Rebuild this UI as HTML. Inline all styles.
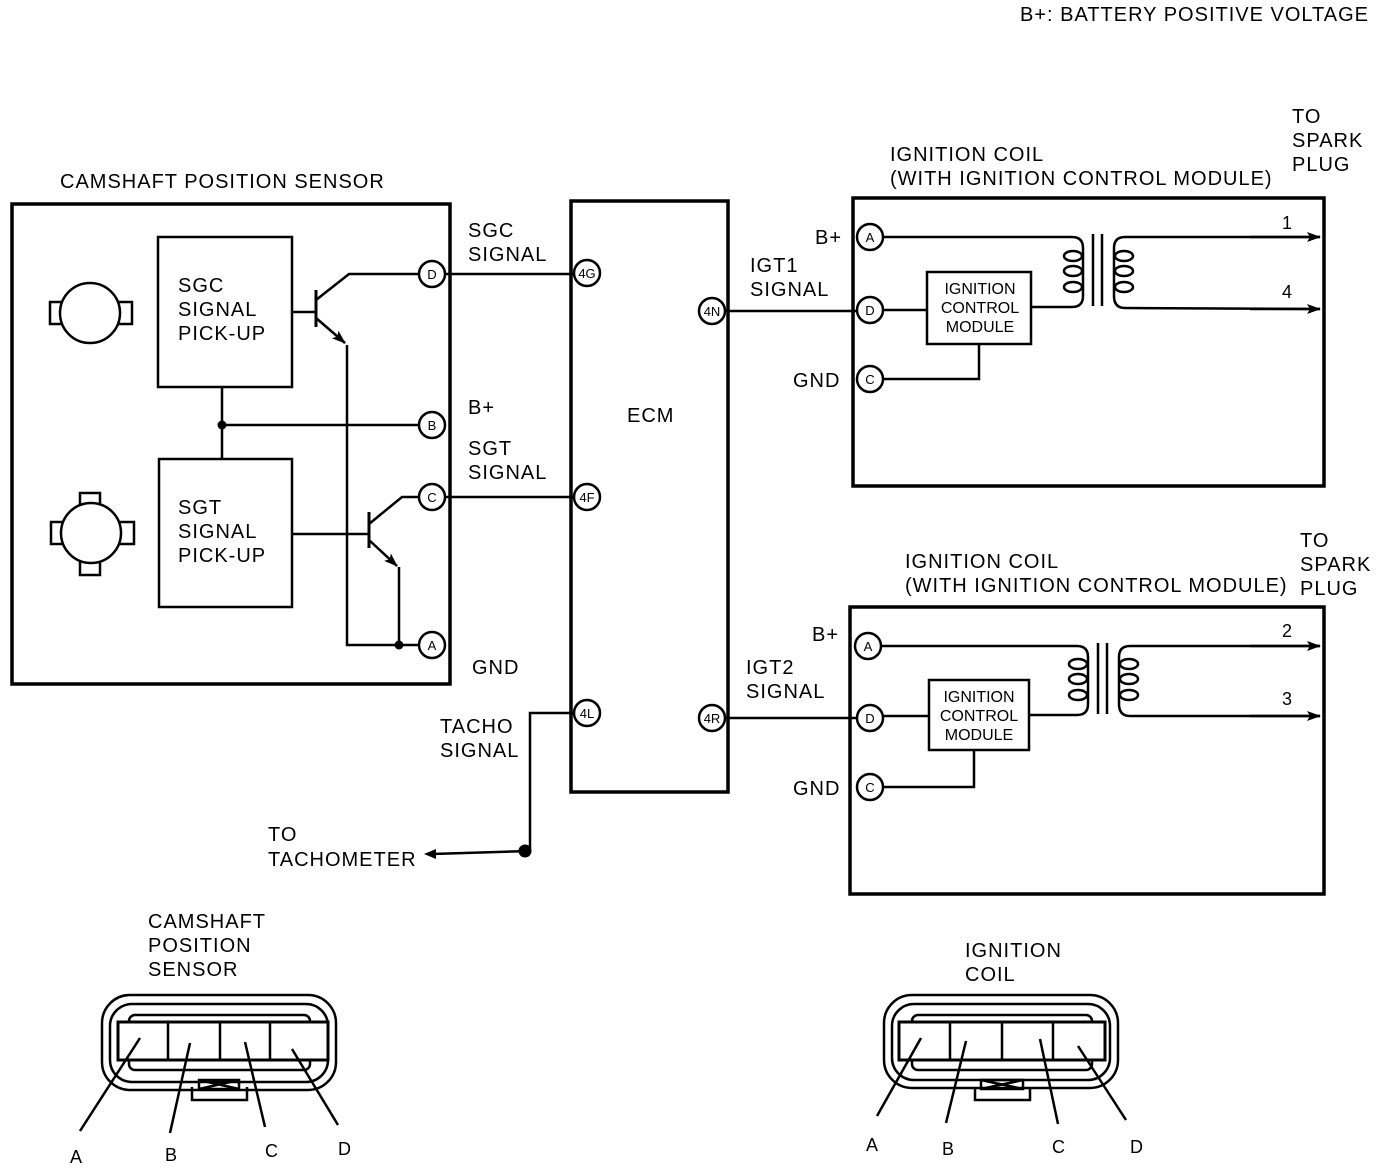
<!DOCTYPE html>
<html><head><meta charset="utf-8"><style>
html,body{margin:0;padding:0;background:#fff}
svg text{font-family:"Liberation Sans",sans-serif;fill:#000}
</style></head><body>
<svg width="1392" height="1170" viewBox="0 0 1392 1170" xmlns="http://www.w3.org/2000/svg">
<defs>
<marker id="ar" markerWidth="14" markerHeight="10" refX="13" refY="5" orient="auto" markerUnits="userSpaceOnUse"><path d="M0,0 L14,5 L0,10 L3,5 Z" fill="#000"/></marker>
</defs>
<g font-size="20" letter-spacing="1">
<text x="1020" y="21">B+: BATTERY POSITIVE VOLTAGE</text>
<text x="60" y="188">CAMSHAFT POSITION SENSOR</text>
<text x="468" y="237">SGC</text><text x="468" y="261">SIGNAL</text>
<text x="468" y="414">B+</text>
<text x="468" y="455">SGT</text><text x="468" y="479">SIGNAL</text>
<text x="472" y="674">GND</text>
<text x="627" y="422">ECM</text>
<text x="440" y="733">TACHO</text><text x="440" y="757">SIGNAL</text>
<text x="268" y="841">TO</text><text x="268" y="866">TACHOMETER</text>
<text x="750" y="272">IGT1</text><text x="750" y="296">SIGNAL</text>
<text x="746" y="674">IGT2</text><text x="746" y="698">SIGNAL</text>
<text x="815" y="244">B+</text>
<text x="793" y="387">GND</text>
<text x="812" y="641">B+</text>
<text x="793" y="795">GND</text>
<text x="890" y="161">IGNITION COIL</text><text x="890" y="185">(WITH IGNITION CONTROL MODULE)</text>
<text x="1292" y="123">TO</text><text x="1292" y="147">SPARK</text><text x="1292" y="171">PLUG</text>
<text x="905" y="568">IGNITION COIL</text><text x="905" y="592">(WITH IGNITION CONTROL MODULE)</text>
<text x="1300" y="547">TO</text><text x="1300" y="571">SPARK</text><text x="1300" y="595">PLUG</text>
<text x="1282" y="229" font-size="18">1</text><text x="1282" y="298" font-size="18">4</text>
<text x="1282" y="637" font-size="18">2</text><text x="1282" y="705" font-size="18">3</text>
<text x="178" y="292">SGC</text><text x="178" y="316">SIGNAL</text><text x="178" y="340">PICK-UP</text>
<text x="178" y="514">SGT</text><text x="178" y="538">SIGNAL</text><text x="178" y="562">PICK-UP</text>
<text x="148" y="928">CAMSHAFT</text><text x="148" y="952">POSITION</text><text x="148" y="976">SENSOR</text>
<text x="965" y="957">IGNITION</text><text x="965" y="981">COIL</text>
<text x="70" y="1163" font-size="18">A</text><text x="165" y="1161" font-size="18">B</text><text x="265" y="1157" font-size="18">C</text><text x="338" y="1155" font-size="18">D</text>
<text x="866" y="1151" font-size="18">A</text><text x="942" y="1155" font-size="18">B</text><text x="1052" y="1153" font-size="18">C</text><text x="1130" y="1153" font-size="18">D</text>
</g>
<g font-size="16" text-anchor="middle">
<text x="980" y="294">IGNITION</text><text x="980" y="313">CONTROL</text><text x="980" y="332">MODULE</text>
<text x="979" y="702">IGNITION</text><text x="979" y="721">CONTROL</text><text x="979" y="740">MODULE</text>
</g>
<g fill="none" stroke="#000" stroke-width="2.5">
<rect x="12" y="204" width="438" height="480" stroke-width="3.5"/>
<rect x="158" y="237" width="134" height="150"/>
<rect x="159" y="459" width="133" height="148"/>
<rect x="50" y="302" width="14" height="22"/><rect x="117" y="302" width="15" height="22"/>
<circle cx="90" cy="313" r="30" fill="#fff"/>
<rect x="80" y="493" width="20" height="14"/><rect x="80" y="559" width="20" height="16"/>
<rect x="51" y="522" width="14" height="22"/><rect x="118" y="522" width="16" height="22"/>
<circle cx="91" cy="533" r="30" fill="#fff"/>
<line x1="292" y1="312" x2="316" y2="312"/><line x1="316" y1="290" x2="316" y2="327" stroke-width="3"/>
<polyline points="316,300 349,274 418,274"/>
<line x1="316" y1="318" x2="345" y2="343" marker-end="url(#ar)"/>
<polyline points="347,345 347,645 418,645"/>
<line x1="222" y1="387" x2="222" y2="459"/><line x1="222" y1="425" x2="418" y2="425"/>
<line x1="292" y1="534" x2="369" y2="534"/><line x1="369" y1="512" x2="369" y2="548" stroke-width="3"/>
<polyline points="369,524 402,497 418,497"/>
<line x1="369" y1="540" x2="397" y2="566" marker-end="url(#ar)"/>
<polyline points="399,567 399,645"/>
<circle cx="432" cy="274" r="13"/><circle cx="432" cy="425" r="13"/><circle cx="432" cy="497" r="13"/><circle cx="432" cy="645" r="13"/>
<line x1="445" y1="274" x2="573" y2="274"/><line x1="445" y1="497" x2="573" y2="497"/>
<rect x="571" y="201" width="157" height="591" stroke-width="3.5"/>
<circle cx="587" cy="273" r="13"/><circle cx="587" cy="497" r="13"/><circle cx="587" cy="713" r="13"/>
<circle cx="712" cy="311" r="13"/><circle cx="712" cy="718" r="13"/>
<polyline points="574,713 530,713 530,851 432,854"/>
<line x1="725" y1="311" x2="857" y2="311"/><line x1="725" y1="718" x2="857" y2="718"/>
<!-- coil 1 -->
<rect x="853" y="198" width="471" height="288" stroke-width="3.5"/>
<circle cx="870" cy="237" r="13"/><circle cx="870" cy="310" r="13"/><circle cx="870" cy="379" r="13"/>
<rect x="927" y="272" width="104" height="72"/>
<line x1="883" y1="310" x2="927" y2="310"/>
<polyline points="883,379 979,379 979,344"/>
<path d="M883,237 L1072,237 Q1083,237 1083,248 L1083,296 Q1083,307 1072,307 L1031,307"/>
<ellipse cx="1073" cy="256" rx="9" ry="5"/><ellipse cx="1073" cy="271" rx="9" ry="5"/><ellipse cx="1073" cy="287" rx="9" ry="5"/>
<line x1="1093" y1="234" x2="1093" y2="306"/><line x1="1102" y1="234" x2="1102" y2="306"/>
<path d="M1320,237 L1125,237 Q1114,237 1114,248 L1114,296 Q1114,308 1125,308 L1320,309"/>
<ellipse cx="1124" cy="256" rx="9" ry="5"/><ellipse cx="1124" cy="271" rx="9" ry="5"/><ellipse cx="1124" cy="287" rx="9" ry="5"/>
<line x1="1250" y1="237" x2="1320" y2="237" marker-end="url(#ar)"/>
<line x1="1250" y1="309" x2="1320" y2="309" marker-end="url(#ar)"/>
<!-- coil 2 -->
<rect x="850" y="607" width="474" height="287" stroke-width="3.5"/>
<circle cx="868" cy="646" r="13"/><circle cx="870" cy="718" r="13"/><circle cx="870" cy="787" r="13"/>
<rect x="929" y="680" width="100" height="70"/>
<line x1="883" y1="716" x2="929" y2="716"/>
<polyline points="883,787 974,787 974,750"/>
<path d="M881,646 L1077,646 Q1088,646 1088,657 L1088,704 Q1088,715 1077,715 L1029,715"/>
<ellipse cx="1078" cy="664" rx="9" ry="5"/><ellipse cx="1078" cy="679" rx="9" ry="5"/><ellipse cx="1078" cy="695" rx="9" ry="5"/>
<line x1="1098" y1="643" x2="1098" y2="714"/><line x1="1107" y1="643" x2="1107" y2="714"/>
<path d="M1320,646 L1130,646 Q1119,646 1119,657 L1119,704 Q1119,716 1130,716 L1320,716"/>
<ellipse cx="1129" cy="664" rx="9" ry="5"/><ellipse cx="1129" cy="679" rx="9" ry="5"/><ellipse cx="1129" cy="695" rx="9" ry="5"/>
<line x1="1250" y1="646" x2="1320" y2="646" marker-end="url(#ar)"/>
<line x1="1250" y1="716" x2="1320" y2="716" marker-end="url(#ar)"/>
<!-- left connector -->
<rect x="102" y="995" width="234" height="95" rx="28"/>
<rect x="110" y="1004" width="218" height="78" rx="22"/>
<rect x="129" y="1015" width="181" height="55" rx="6"/>
<rect x="118" y="1022" width="210" height="38" fill="#fff" stroke-width="3"/>
<line x1="168" y1="1022" x2="168" y2="1060"/><line x1="220" y1="1022" x2="220" y2="1060"/><line x1="270" y1="1022" x2="270" y2="1060"/>
<polyline points="192,1087 192,1100 247,1100 247,1087"/>
<rect x="199" y="1080" width="40" height="9"/><path d="M199,1080 L239,1089 M199,1089 L239,1080"/>
<line x1="140" y1="1038" x2="80" y2="1131"/><line x1="190" y1="1043" x2="170" y2="1133"/><line x1="245" y1="1042" x2="265" y2="1127"/><line x1="292" y1="1049" x2="338" y2="1125"/>
<!-- right connector -->
<rect x="884" y="995" width="234" height="93" rx="28"/>
<rect x="892" y="1004" width="218" height="76" rx="22"/>
<rect x="912" y="1015" width="180" height="55" rx="6"/>
<rect x="899" y="1022" width="206" height="38" fill="#fff" stroke-width="3"/>
<line x1="950" y1="1022" x2="950" y2="1060"/><line x1="1002" y1="1022" x2="1002" y2="1060"/><line x1="1053" y1="1022" x2="1053" y2="1060"/>
<polyline points="975,1087 975,1100 1030,1100 1030,1087"/>
<rect x="981" y="1080" width="42" height="9"/><path d="M981,1080 L1023,1089 M981,1089 L1023,1080"/>
<line x1="921" y1="1038" x2="877" y2="1116"/><line x1="966" y1="1041" x2="946" y2="1123"/><line x1="1040" y1="1039" x2="1058" y2="1124"/><line x1="1078" y1="1046" x2="1126" y2="1120"/>
</g>
<g fill="#000">
<circle cx="222" cy="425" r="4.5"/><circle cx="399" cy="645" r="4.5"/><circle cx="525" cy="851" r="6.5"/>
<path d="M424,854 L436,849 L436,859 Z"/>
</g>
<g font-size="13" text-anchor="middle">
<text x="432" y="279">D</text><text x="432" y="430">B</text><text x="432" y="502">C</text><text x="432" y="650">A</text>
<text x="587" y="278">4G</text><text x="587" y="502">4F</text><text x="587" y="718">4L</text>
<text x="712" y="316">4N</text><text x="712" y="723">4R</text>
<text x="870" y="242">A</text><text x="870" y="315">D</text><text x="870" y="384">C</text>
<text x="868" y="651">A</text><text x="870" y="723">D</text><text x="870" y="792">C</text>
</g>
</svg>
</body></html>
